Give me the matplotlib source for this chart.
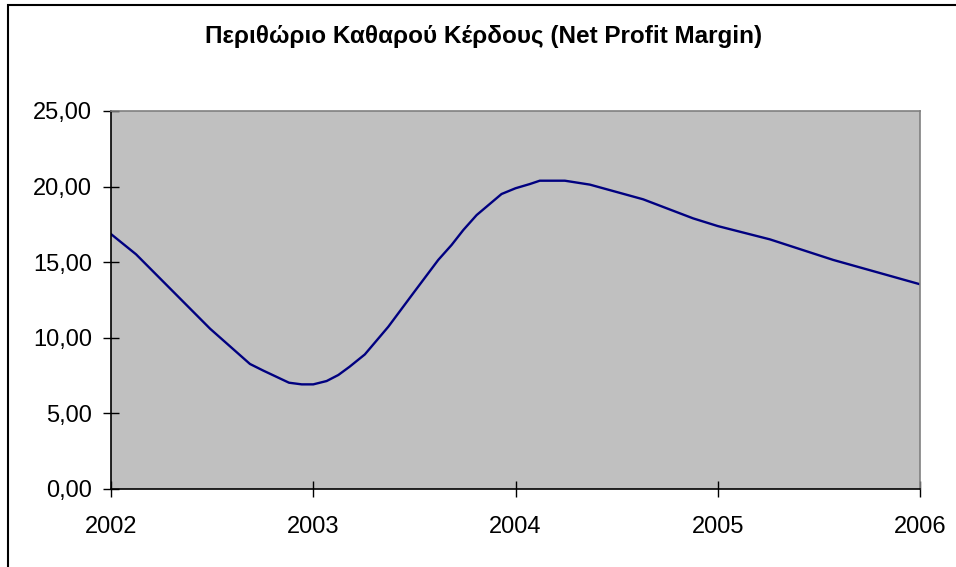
import matplotlib
matplotlib.use('Agg')
import matplotlib.pyplot as plt
from matplotlib.patches import Rectangle

# chart values (x in years)
years = [2002, 2003, 2004, 2005, 2006]
year_labels = ['2002', '2003', '2004', '2005', '2006']
trace_x = [2002.0, 2002.124, 2002.49, 2002.687, 2002.753, 2002.88, 2002.943, 2003.0,
           2003.066, 2003.124, 2003.18, 2003.255, 2003.371, 2003.494, 2003.618, 2003.684,
           2003.742, 2003.808, 2003.931, 2004.0, 2004.071, 2004.12, 2004.244, 2004.368,
           2004.631, 2004.878, 2005.0, 2005.258, 2005.571, 2006.0]
trace_y = [16.86, 15.52, 10.6, 8.27, 7.83, 7.03, 6.92, 6.92,
           7.14, 7.54, 8.09, 8.9, 10.73, 12.94, 15.15, 16.14,
           17.13, 18.12, 19.51, 19.89, 20.17, 20.39, 20.39, 20.13,
           19.16, 17.9, 17.39, 16.51, 15.15, 13.54]
y_ticks = [0, 5, 10, 15, 20, 25]
y_labels = ['0,00', '5,00', '10,00', '15,00', '20,00', '25,00']
title = 'Περιθώριο Καθαρού Κέρδους (Net Profit Margin)'

plt.rcParams['font.family'] = ['Liberation Sans', 'DejaVu Sans']

fig = plt.figure(figsize=(9.56, 5.67), dpi=100)
W, H = 956, 567
ax = fig.add_axes([111 / W, 1 - 489 / H, (920 - 111) / W, (489 - 111) / H])
ax.set_facecolor('#C0C0C0')

ax.plot(trace_x, trace_y, color='#000080', lw=1.7)

ax.set_xlim(2002, 2006)
ax.set_ylim(0, 25)
ax.set_xticks(years)
ax.set_xticklabels(year_labels)
ax.set_yticks(y_ticks)
ax.set_yticklabels(y_labels)
ax.tick_params(axis='both', direction='inout', length=11, width=1, labelsize=17, colors='black')
ax.tick_params(axis='x', pad=14)
ax.tick_params(axis='y', pad=8)

for s in ['left', 'bottom']:
    ax.spines[s].set_color('black')
    ax.spines[s].set_linewidth(1.2)
for s in ['top', 'right']:
    ax.spines[s].set_color('#808080')
    ax.spines[s].set_linewidth(1.2)

fig.text(484 / W, 1 - 37 / H, title, ha='center', va='center', fontsize=17.5, fontweight='bold')

# outer chart border (only left and top visible in the crop)
fig.patches.append(Rectangle((7.5 / W, -0.1), 1.2, 1 - 5 / H + 0.1, transform=fig.transFigure,
                             fill=False, edgecolor='black', lw=1.5))

fig.savefig('out.png', dpi=100)
